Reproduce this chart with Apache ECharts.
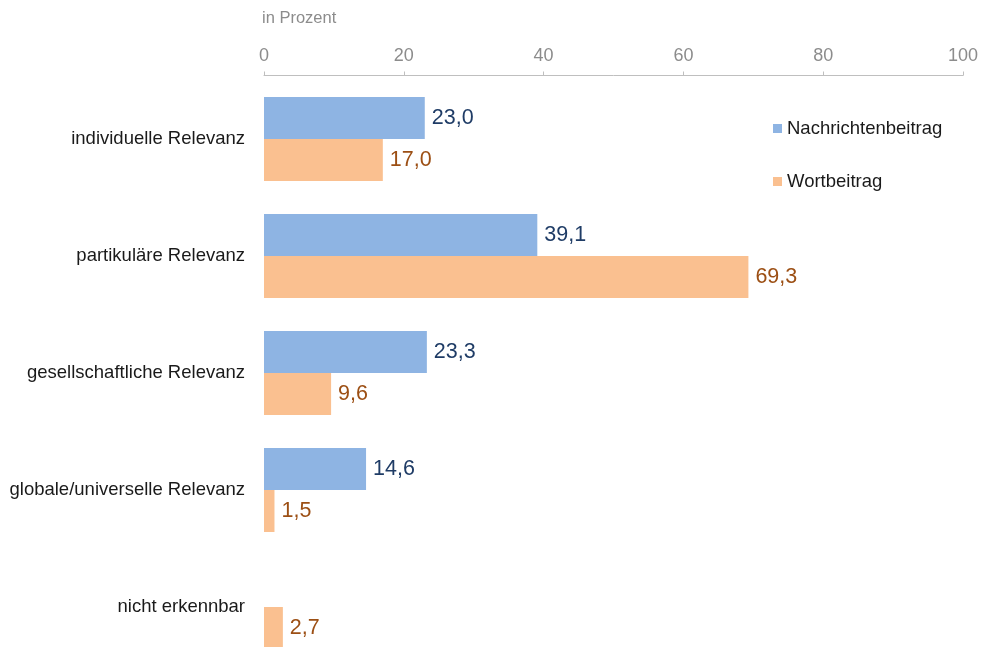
<!DOCTYPE html>
<html>
<head>
<meta charset="utf-8">
<script src="https://cdn.jsdelivr.net/npm/echarts@6/dist/echarts.min.js"></script>
<style>
  html, body { margin: 0; padding: 0; background: #fff; }
  #chart { width: 981px; height: 647px; }
</style>
</head>
<body>
<div id="chart"></div>
<script>
var categories = ['individuelle Relevanz', 'partikuläre Relevanz', 'gesellschaftliche Relevanz', 'globale/universelle Relevanz', 'nicht erkennbar'];
var nachrichtenValues = [23.0, 39.1, 23.3, 14.6, null];
var wortValues = [17.0, 69.3, 9.6, 1.5, 2.7];
var xTicks = [0, 20, 40, 60, 80, 100];

var sans = '"Liberation Sans", Arial, sans-serif';

function fmt(p) {
    return p.value == null ? '' : p.value.toFixed(1).replace('.', ',');
}

var chart = echarts.init(document.getElementById('chart'), null, { renderer: 'canvas' });

chart.setOption({
    animation: false,
    title: {
        text: 'in Prozent',
        left: 257,
        top: 5,
        textStyle: { fontFamily: sans, fontSize: 16.5, fontWeight: 'normal', color: '#8c8c8c' }
    },
    legend: {
        orient: 'vertical',
        left: 768,
        top: 114,
        itemWidth: 9,
        itemHeight: 9,
        itemGap: 34,
        icon: 'rect',
        textStyle: { fontFamily: sans, fontSize: 18.5, color: '#1a1a1a', padding: [0, 0, 0, 0] },
        data: ['Nachrichtenbeitrag', 'Wortbeitrag']
    },
    grid: {
        left: 264,
        right: 18,
        top: 80.5,
        height: 585,
        outerBoundsMode: 'none'
    },
    xAxis: {
        type: 'value',
        position: 'top',
        offset: 5,
        min: xTicks[0],
        max: xTicks[xTicks.length - 1],
        interval: 20,
        axisLine: { show: true, lineStyle: { color: '#bfbfbf', width: 1 } },
        axisTick: { show: true, length: 4, lineStyle: { color: '#bfbfbf' } },
        axisLabel: { fontFamily: sans, fontSize: 18, color: '#8c8c8c', margin: 10 },
        splitLine: { show: false }
    },
    yAxis: {
        type: 'category',
        inverse: true,
        data: categories,
        axisLine: { show: false },
        axisTick: { show: false },
        axisLabel: { fontFamily: sans, fontSize: 18.5, color: '#1a1a1a', margin: 19 }
    },
    series: [
        {
            name: 'Nachrichtenbeitrag',
            type: 'bar',
            data: nachrichtenValues,
            barWidth: 42,
            barGap: '0%',
            itemStyle: { color: '#8eb4e3' },
            label: {
                show: true,
                position: 'right',
                distance: 7,
                formatter: fmt,
                fontFamily: sans,
                fontSize: 21.5,
                color: '#1f3c66'
            }
        },
        {
            name: 'Wortbeitrag',
            type: 'bar',
            data: wortValues,
            barWidth: 42,
            barGap: '0%',
            itemStyle: { color: '#fac090' },
            label: {
                show: true,
                position: 'right',
                distance: 7,
                formatter: fmt,
                fontFamily: sans,
                fontSize: 21.5,
                color: '#9c4f14'
            }
        }
    ]
});
</script>
</body>
</html>
